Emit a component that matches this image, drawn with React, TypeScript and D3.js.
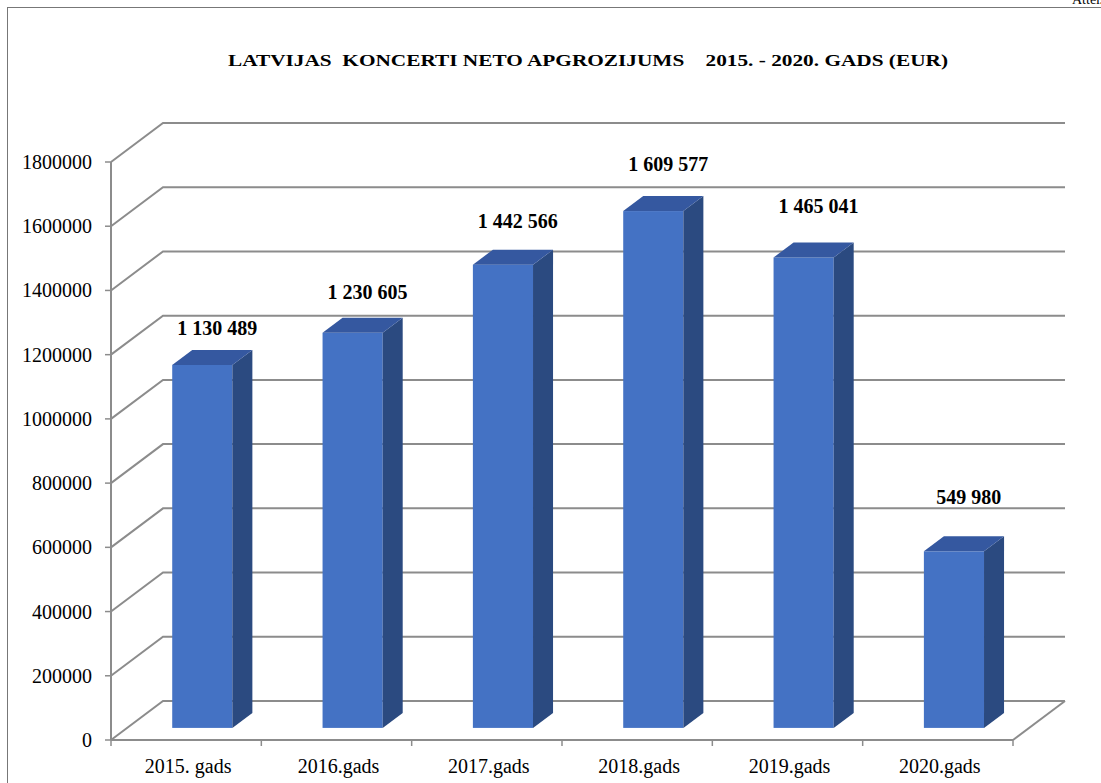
import React from "react";
import * as d3 from "d3";

const categories = ["2015. gads", "2016.gads", "2017.gads", "2018.gads", "2019.gads", "2020.gads"];
const values = [1130489, 1230605, 1442566, 1609577, 1465041, 549980];
const valueLabels = ["1 130 489", "1 230 605", "1 442 566", "1 609 577", "1 465 041", "549 980"];
const yTicks = [0, 200000, 400000, 600000, 800000, 1000000, 1200000, 1400000, 1600000, 1800000];
const title = "LATVIJAS  KONCERTI NETO APGROZIJUMS    2015. - 2020. GADS (EUR)";

export default function App() {
  const W = 1101, H = 783;
  const x0 = 111, x1 = 1013;
  const DX = 52, DY = -39;
  const y = d3.scaleLinear().domain([0, 1800000]).range([740, 162]);
  const x = d3.scaleBand().domain(categories).range([x0, x1]).paddingInner(0).paddingOuter(0);
  const bw = x.bandwidth();
  const barW = bw * 0.4;
  const fFront = 0.31, fBack = 0.695;
  const grid = "#8c8c8c";
  const font = "'Liberation Serif', 'Times New Roman', serif";

  return (
    <div style={{ position: "absolute", left: 0, top: 0 }}>
      <svg width={W} height={H} style={{ display: "block" }}>
        <rect x={0} y={0} width={W} height={H} fill="#fff" />
        <rect x={7.5} y={7.5} width={W + 10} height={H + 10} fill="none" stroke="#777" strokeWidth={1} />
        <text x={1072} y={4} fontFamily={font} fontSize={14} fill="#000">Attēls</text>
        <text x={588} y={66} textAnchor="middle" fontFamily={font} fontWeight="bold" fontSize={17}
          style={{ whiteSpace: "pre" }} textLength={720} lengthAdjust="spacingAndGlyphs">{title}</text>

        {yTicks.map((t) => {
          const yy = y(t);
          return (
            <g key={t}>
              <polyline points={`${x0},${yy} ${x0 + DX},${yy + DY} ${x1 + DX},${yy + DY}`}
                fill="none" stroke={grid} strokeWidth={2} />
              <line x1={x0 - 6} x2={x0} y1={yy} y2={yy} stroke={grid} strokeWidth={1.5} />
              <text x={92} y={yy + 7} textAnchor="end" fontFamily={font} fontSize={20} fill="#000">{t}</text>
            </g>
          );
        })}
        <line x1={x0} x2={x1} y1={y(0)} y2={y(0)} stroke={grid} strokeWidth={2} />
        <line x1={x1} x2={x1 + DX} y1={y(0)} y2={y(0) + DY} stroke={grid} strokeWidth={2} />
        <line x1={x0} x2={x0} y1={y(1800000)} y2={y(0)} stroke={grid} strokeWidth={2} />
        {categories.map((c, i) => (
          <line key={c} x1={x0 + i * bw} x2={x0 + i * bw} y1={y(0)} y2={y(0) + 6} stroke={grid} strokeWidth={1.5} />
        ))}
        <line x1={x1} x2={x1} y1={y(0)} y2={y(0) + 6} stroke={grid} strokeWidth={1.5} />

        {values.map((v, i) => {
          const cx = (x(categories[i]) as number) + bw / 2;
          const fx = cx - barW / 2 + DX * fFront;
          const fyBase = y(0) + DY * fFront;
          const fyTop = y(v) + DY * fFront;
          const ddx = DX * (fBack - fFront), ddy = DY * (fBack - fFront);
          const labelBase = fyTop - 30 - 3.5 * i;
          return (
            <g key={i}>
              <rect x={fx} y={fyTop} width={barW} height={fyBase - fyTop} fill="#4472C4" />
              <polygon points={`${fx + barW},${fyTop} ${fx + barW + ddx},${fyTop + ddy} ${fx + barW + ddx},${fyBase + ddy} ${fx + barW},${fyBase}`}
                fill="#2B4A80" />
              <polygon points={`${fx},${fyTop} ${fx + ddx},${fyTop + ddy} ${fx + barW + ddx},${fyTop + ddy} ${fx + barW},${fyTop}`}
                fill="#3558A0" />
              <text x={cx + 31} y={labelBase} textAnchor="middle" fontFamily={font} fontWeight="bold" fontSize={20} fill="#000">
                {valueLabels[i]}
              </text>
            </g>
          );
        })}

        {categories.map((c) => (
          <text key={c} x={(x(c) as number) + bw / 2 + 2} y={773} textAnchor="middle" fontFamily={font} fontSize={20} fill="#000">{c}</text>
        ))}
      </svg>
    </div>
  );
}
